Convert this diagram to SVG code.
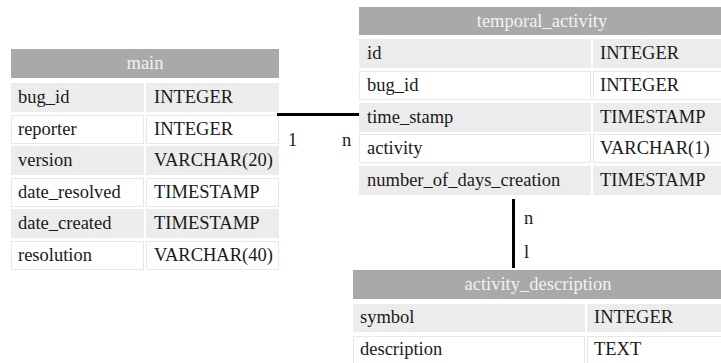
<svg xmlns="http://www.w3.org/2000/svg" width="721" height="363" viewBox="0 0 721 363">
<style>
.hd{fill:#a9a9a9}
.ht{font-family:"Liberation Serif",serif;font-size:18.5px;fill:#f2f2f2;text-anchor:middle}
.sh{fill:#ececec}
.wh{fill:#ffffff;stroke:#e8e8e8;stroke-width:1}
.t{font-family:"Liberation Serif",serif;font-size:18.5px;fill:#1a1a1a}
.c{stroke:#000;stroke-width:3;fill:none}
</style>
<rect width="721" height="363" fill="#fff"/>
<g id="main">
<rect class="hd" x="11" y="49" width="268" height="29"/>
<text class="ht" x="145" y="69">main</text>
<rect class="sh" x="11" y="83" width="133" height="29"/><rect class="sh" x="146" y="83" width="133" height="29"/>
<text class="t" x="18" y="103">bug_id</text><text class="t" x="154" y="103">INTEGER</text>
<rect class="wh" x="11.5" y="115.5" width="132" height="28"/><rect class="wh" x="146.5" y="115.5" width="132" height="28"/>
<text class="t" x="18" y="135">reporter</text><text class="t" x="154" y="135">INTEGER</text>
<rect class="sh" x="11" y="146" width="133" height="29"/><rect class="sh" x="146" y="146" width="133" height="29"/>
<text class="t" x="18" y="166">version</text><text class="t" x="154" y="166">VARCHAR(20)</text>
<rect class="wh" x="11.5" y="178.5" width="132" height="28"/><rect class="wh" x="146.5" y="178.5" width="132" height="28"/>
<text class="t" x="18" y="198">date_resolved</text><text class="t" x="154" y="198">TIMESTAMP</text>
<rect class="sh" x="11" y="209" width="133" height="29"/><rect class="sh" x="146" y="209" width="133" height="29"/>
<text class="t" x="18" y="229">date_created</text><text class="t" x="154" y="229">TIMESTAMP</text>
<rect class="wh" x="11.5" y="241.5" width="132" height="28"/><rect class="wh" x="146.5" y="241.5" width="132" height="28"/>
<text class="t" x="18" y="261">resolution</text><text class="t" x="154" y="261">VARCHAR(40)</text>
</g>
<g id="temporal_activity">
<rect class="hd" x="359" y="7" width="362" height="28"/>
<text class="ht" x="542" y="27">temporal_activity</text>
<rect class="sh" x="359" y="39" width="232" height="29"/><rect class="sh" x="593" y="39" width="128" height="29"/>
<text class="t" x="367" y="59">id</text><text class="t" x="600" y="59">INTEGER</text>
<rect class="wh" x="359.5" y="71.5" width="231" height="28"/><rect class="wh" x="593.5" y="71.5" width="128" height="28"/>
<text class="t" x="367" y="91">bug_id</text><text class="t" x="600" y="91">INTEGER</text>
<rect class="sh" x="359" y="103" width="232" height="29"/><rect class="sh" x="593" y="103" width="128" height="29"/>
<text class="t" x="367" y="123">time_stamp</text><text class="t" x="600" y="123">TIMESTAMP</text>
<rect class="wh" x="359.5" y="134.5" width="231" height="28"/><rect class="wh" x="593.5" y="134.5" width="128" height="28"/>
<text class="t" x="367" y="154">activity</text><text class="t" x="600" y="154">VARCHAR(1)</text>
<rect class="sh" x="359" y="166" width="232" height="29"/><rect class="sh" x="593" y="166" width="128" height="29"/>
<text class="t" x="367" y="186">number_of_days_creation</text><text class="t" x="600" y="186">TIMESTAMP</text>
</g>
<g id="activity_description">
<rect class="hd" x="353" y="270" width="368" height="29"/>
<text class="ht" x="538" y="290">activity_description</text>
<rect class="sh" x="353" y="304" width="232" height="28"/><rect class="sh" x="587" y="304" width="134" height="28"/>
<text class="t" x="360" y="323">symbol</text><text class="t" x="594" y="323">INTEGER</text>
<rect class="wh" x="353.5" y="336.5" width="231" height="27"/><rect class="wh" x="587.5" y="336.5" width="134" height="27"/>
<text class="t" x="360" y="355">description</text><text class="t" x="594" y="355">TEXT</text>
</g>
<g id="connectors">
<line class="c" x1="277" y1="114.5" x2="359" y2="114.5"/>
<text class="t" x="288" y="146">1</text>
<text class="t" x="342" y="146">n</text>
<line class="c" x1="513.5" y1="199" x2="513.5" y2="268"/>
<text class="t" x="524" y="224">n</text>
<text class="t" x="524" y="258">l</text>
</g>
</svg>
